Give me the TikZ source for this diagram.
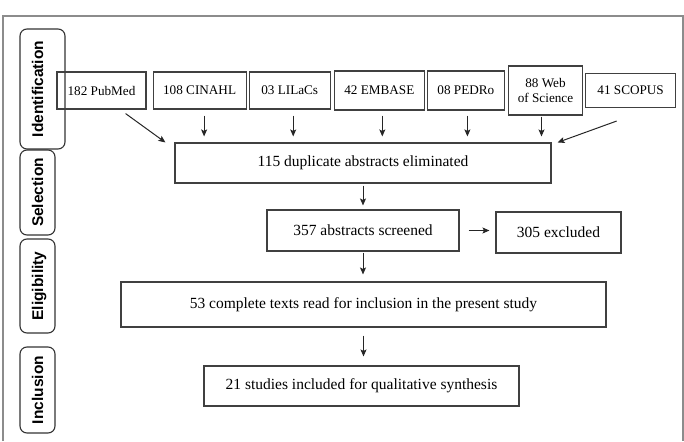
\documentclass[tikz,border=0pt]{standalone}
\usepackage{fontspec}
\setmainfont{Liberation Serif}
\newfontfamily\stagefont{Liberation Sans}
\usetikzlibrary{positioning, arrows.meta}

\begin{document}
\begin{tikzpicture}[x=1pt, y=-1pt,
		>={Stealth[length=7pt, width=6pt, inset=1.5pt]},
		source/.style={draw=black!75, line width=1.1pt, inner sep=0pt, minimum height=37pt, align=center, font=\fontsize{13.2}{15}\selectfont},
		stage/.style={draw=black!80, line width=1.1pt, rounded corners=7pt, rotate=90, anchor=base, inner xsep=0pt, inner ysep=12pt, text height=11pt, text depth=0pt, font=\stagefont\bfseries\fontsize{15.5}{18}\selectfont},
		stepbox/.style={draw=black!75, line width=1.1pt, inner sep=0pt, font=\fontsize{15.5}{18}\selectfont},
		flow/.style={->, line width=1pt, black!85}
		]
		
		\useasboundingbox (0,0) rectangle (684,441);
		
		% --- Outer frame ---
		\draw[black!45, line width=1.5pt] (3,441) -- (3,16) -- (683,16) -- (683,441);
		
		% --- Stages ---
		\node[stage, minimum width=120pt, text depth=10pt] (idstage) at (43,89) {Identification};
		\node[stage, minimum width=85pt] (selstage) at (43,192.5) {Selection};
		\node[stage, minimum width=94pt] (eligstage) at (43,286) {Eligibility};
		\node[stage, minimum width=86pt] (inclstage) at (43,390) {Inclusion};
		
		% --- Databases ---
		\node[source, minimum width=89pt] (pub) at (101.5,90.5) {182 PubMed};
		\node[source, minimum width=93pt, right=6pt of pub] (cin) {108 CINAHL};
		\node[source, minimum width=81pt, right=2pt of cin] (lil) {03 LILaCs};
		\node[source, minimum width=90pt, minimum height=39pt, right=3pt of lil] (emb) {42 EMBASE};
		\node[source, minimum width=77pt, minimum height=39pt, right=2pt of emb] (ped) {08 PEDRo};
		\node[source, minimum width=74pt, minimum height=49pt, right=3pt of ped] (wos) {88 Web\\of Science};
		\node[source, minimum width=90pt, minimum height=34pt, right=2pt of wos] (sco) {41 SCOPUS};
		
		% --- Flow ---
		\node[stepbox, minimum width=376pt, minimum height=40pt] (dup) at (363,163) {115 duplicate abstracts eliminated};
		\node[stepbox, minimum width=192pt, minimum height=41pt] (screen) at (363,230.5) {357 abstracts screened};
		\node[stepbox, minimum width=125pt, minimum height=41pt] (excl) at (558.5,232.5) {305 excluded};
		\node[stepbox, minimum width=485pt, minimum height=45pt] (fulltext) at (363.5,304.5) {53 complete texts read for inclusion in the present study};
		\node[stepbox, minimum width=315pt, minimum height=40pt] (final) at (361.5,386) {21 studies included for qualitative synthesis};
		
		\draw[flow] ([xshift=-21pt, yshift=-4pt]pub.south east) -- ([xshift=-9pt]dup.north west);
		\draw[flow, shorten <=6pt, shorten >=6pt] ([xshift=4.5pt]cin.south) -- ([xshift=4.5pt]cin.south |- dup.north);
		\draw[flow, shorten <=6pt, shorten >=6pt] ([xshift=3.5pt]lil.south) -- ([xshift=3.5pt]lil.south |- dup.north);
		\draw[flow, shorten <=5pt, shorten >=6pt] ([xshift=3pt]emb.south) -- ([xshift=3pt]emb.south |- dup.north);
		\draw[flow, shorten <=5pt, shorten >=6pt] ([xshift=1.5pt]ped.south) -- ([xshift=1.5pt]ped.south |- dup.north);
		\draw[flow, shorten <=1pt, shorten >=6pt] ([xshift=-4pt]wos.south) -- ([xshift=-4pt]wos.south |- dup.north);
		\draw[flow] ([xshift=-14pt, yshift=-13pt]sco.south) -- ([xshift=6pt]dup.north east);
		
		\draw[flow, shorten <=2pt, shorten >=4pt] (dup) -- (screen);
		\draw[flow, shorten <=9pt, shorten >=6pt] (screen.east) -- (screen.east -| excl.west);
		\draw[flow, shorten <=1pt, shorten >=7pt] (screen) -- (screen |- fulltext.north);
		\draw[flow, shorten <=8pt, shorten >=9pt] (fulltext) -- (fulltext |- final.north);
		
	\end{tikzpicture}
\end{document}
